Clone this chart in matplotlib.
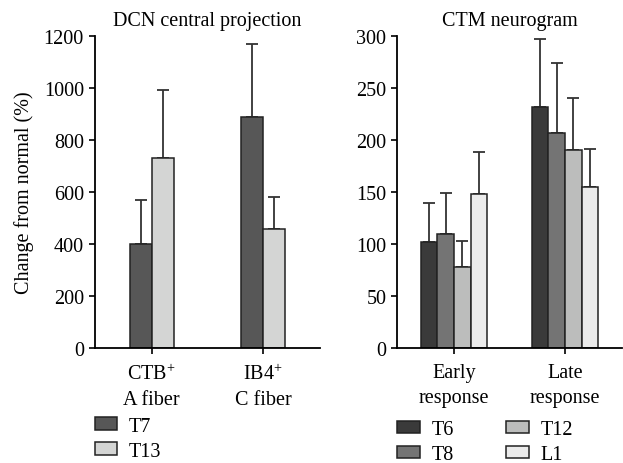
import matplotlib
matplotlib.use("Agg")
import matplotlib.pyplot as plt
import numpy as np

# Daten
dcn_groups = ["CTB$^{+}$\nA fiber", "IB4$^{+}$\nC fiber"]
dcn_series = ["T7", "T13"]
dcn_mean = [[400, 888], [732, 456]]
dcn_err = [[170, 282], [258, 126]]

ctm_groups = ["Early\nresponse", "Late\nresponse"]
ctm_series = ["T6", "T8", "T12", "L1"]
ctm_mean = [[102, 232], [110, 207], [78, 190], [148, 155]]
ctm_err = [[37, 65], [39, 67], [25, 50], [40, 36]]

dcn_colors = ["#575757", "#d4d5d4"]
ctm_colors = ["#3a3a3a", "#747474", "#bcbdbc", "#ebebeb"]

FS = 14.5
plt.rcParams["font.family"] = ["Liberation Serif", "DejaVu Serif"]
plt.rcParams["mathtext.fontset"] = "custom"
plt.rcParams["mathtext.rm"] = "Liberation Serif"
plt.rcParams["font.size"] = FS
plt.rcParams["axes.linewidth"] = 1.3

fig = plt.figure(figsize=(6.23, 4.64), dpi=100)
ax1 = fig.add_axes([0.1525, 0.2478, 0.361, 0.673])
ax2 = fig.add_axes([0.638, 0.2478, 0.360, 0.673])


def draw(ax, groups, series, means, errs, colors, width, ylim, yticks):
    x = np.arange(len(groups))
    n = len(series)
    handles = []
    for i in range(n):
        pos = x + (i - (n - 1) / 2) * width
        b = ax.bar(pos, means[i], width, color=colors[i], edgecolor="#222222",
                   linewidth=1.1, label=series[i], zorder=2,
                   yerr=[np.zeros(len(groups)), errs[i]],
                   error_kw=dict(ecolor="#333333", elinewidth=1.3, capsize=4.5,
                                 capthick=1.3, zorder=1))
        handles.append(b)
    ax.set_xticks(x)
    ax.set_xticklabels(groups, linespacing=1.4)
    ax.set_xlim(-0.51, 1.51)
    ax.set_ylim(*ylim)
    ax.set_yticks(yticks)
    for s in ["top", "right"]:
        ax.spines[s].set_visible(False)
    ax.tick_params(axis="both", direction="out", length=4, width=1.2, pad=4)
    ax.tick_params(axis="x", pad=7)
    return handles


h1 = draw(ax1, dcn_groups, dcn_series, dcn_mean, dcn_err, dcn_colors, 0.2,
          (0, 1200), range(0, 1201, 200))
h2 = draw(ax2, ctm_groups, ctm_series, ctm_mean, ctm_err, ctm_colors, 0.15,
          (0, 300), range(0, 301, 50))

ax1.set_title("DCN central projection", fontsize=FS, pad=8)
ax2.set_title("CTM neurogram", fontsize=FS, pad=8)
ax1.set_ylabel("Change from normal (%)", labelpad=7)

leg_kw = dict(frameon=False, loc="upper left", borderpad=0, borderaxespad=0,
              handlelength=1.1, handleheight=0.55, handletextpad=0.6,
              labelspacing=0.3, fontsize=FS)
fig.legend(h1, dcn_series, bbox_to_anchor=(0.152, 0.1), **leg_kw)
fig.legend(h2, ctm_series, bbox_to_anchor=(0.638, 0.092), ncol=2,
           columnspacing=2.6, **leg_kw)

fig.savefig("out.png", dpi=100)
